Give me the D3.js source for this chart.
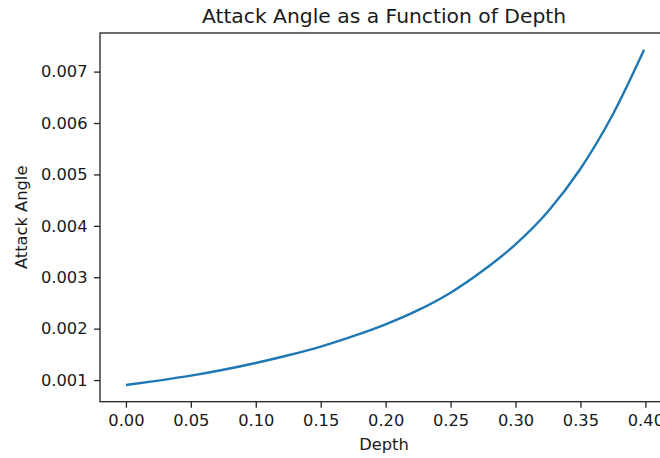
<!DOCTYPE html>
<html>
<head>
<meta charset="utf-8">
<script src="https://cdn.jsdelivr.net/npm/d3@7"></script>
<style>
  html, body { margin: 0; padding: 0; background: #ffffff; }
  svg { display: block; }
  text { font-family: "DejaVu Sans", sans-serif; fill: #1a1a1a; }
</style>
</head>
<body>
<svg id="chart" width="660" height="458"></svg>
<script>
// Depth samples and the attack angle at each depth
const depth = [0, 0.025, 0.05, 0.075, 0.1, 0.125, 0.15, 0.175, 0.2, 0.225,
               0.25, 0.275, 0.3, 0.325, 0.35, 0.375, 0.399];
const attackAngle = [0.000905, 0.000990, 0.001085, 0.001200, 0.001332, 0.001482,
                     0.001652, 0.001855, 0.002085, 0.002360, 0.002700, 0.003130,
                     0.003640, 0.004280, 0.005110, 0.006170, 0.007425];
const xTicks = [0, 0.05, 0.1, 0.15, 0.2, 0.25, 0.3, 0.35, 0.4];
const yTicks = [0.001, 0.002, 0.003, 0.004, 0.005, 0.006, 0.007];

const titleText = "Attack Angle as a Function of Depth";
const xLabel = "Depth";
const yLabel = "Attack Angle";

const svg = d3.select("#chart");
const plotLeft = 100, plotTop = 33, plotBottom = 401.7, plotRight = 670;

// axis limits with a 5% margin around the data
const xExt = d3.extent(depth), yExt = d3.extent(attackAngle);
const xPad = (xExt[1] - xExt[0]) * 0.05, yPad = (yExt[1] - yExt[0]) * 0.05;
const x = d3.scaleLinear().domain([xExt[0] - xPad, xExt[1] + xPad]).range([plotLeft, plotRight]);
const y = d3.scaleLinear().domain([yExt[0] - yPad, yExt[1] + yPad]).range([plotBottom, plotTop]);

const pts = depth.map((d, i) => [d, attackAngle[i]]);

// data line
svg.append("path")
  .datum(pts)
  .attr("fill", "none")
  .attr("stroke", "#1f77b4")
  .attr("stroke-width", 2.4)
  .attr("d", d3.line().x(d => x(d[0])).y(d => y(d[1])).curve(d3.curveMonotoneX));

// x axis
const xAxis = svg.append("g")
  .attr("transform", `translate(0,${plotBottom})`)
  .call(d3.axisBottom(x).tickValues(xTicks).tickFormat(d3.format(".2f")).tickSizeOuter(0).tickSize(6).tickPadding(7));
// y axis
const yAxis = svg.append("g")
  .attr("transform", `translate(${plotLeft},0)`)
  .call(d3.axisLeft(y).tickValues(yTicks).tickFormat(d3.format(".3f")).tickSizeOuter(0).tickSize(6).tickPadding(6.5));

[xAxis, yAxis].forEach(g => {
  g.select(".domain").remove();
  g.selectAll(".tick line").attr("stroke", "#222").attr("stroke-width", 1.3);
  g.selectAll(".tick text").attr("font-size", 16.3).attr("fill", "#1a1a1a")
    .attr("font-family", "DejaVu Sans");
});

// spines
svg.append("rect")
  .attr("x", plotLeft).attr("y", plotTop)
  .attr("width", plotRight - plotLeft).attr("height", plotBottom - plotTop)
  .attr("fill", "none").attr("stroke", "#222").attr("stroke-width", 1.3);

// title and axis labels
svg.append("text")
  .attr("x", 384).attr("y", 22.7)
  .attr("text-anchor", "middle").attr("font-size", 20.3)
  .text(titleText);

svg.append("text")
  .attr("x", 384).attr("y", 450)
  .attr("text-anchor", "middle").attr("font-size", 16.3)
  .text(xLabel);

svg.append("text")
  .attr("transform", `translate(27,${(plotTop + plotBottom) / 2}) rotate(-90)`)
  .attr("text-anchor", "middle").attr("font-size", 16.3)
  .text(yLabel);
</script>
</body>
</html>
